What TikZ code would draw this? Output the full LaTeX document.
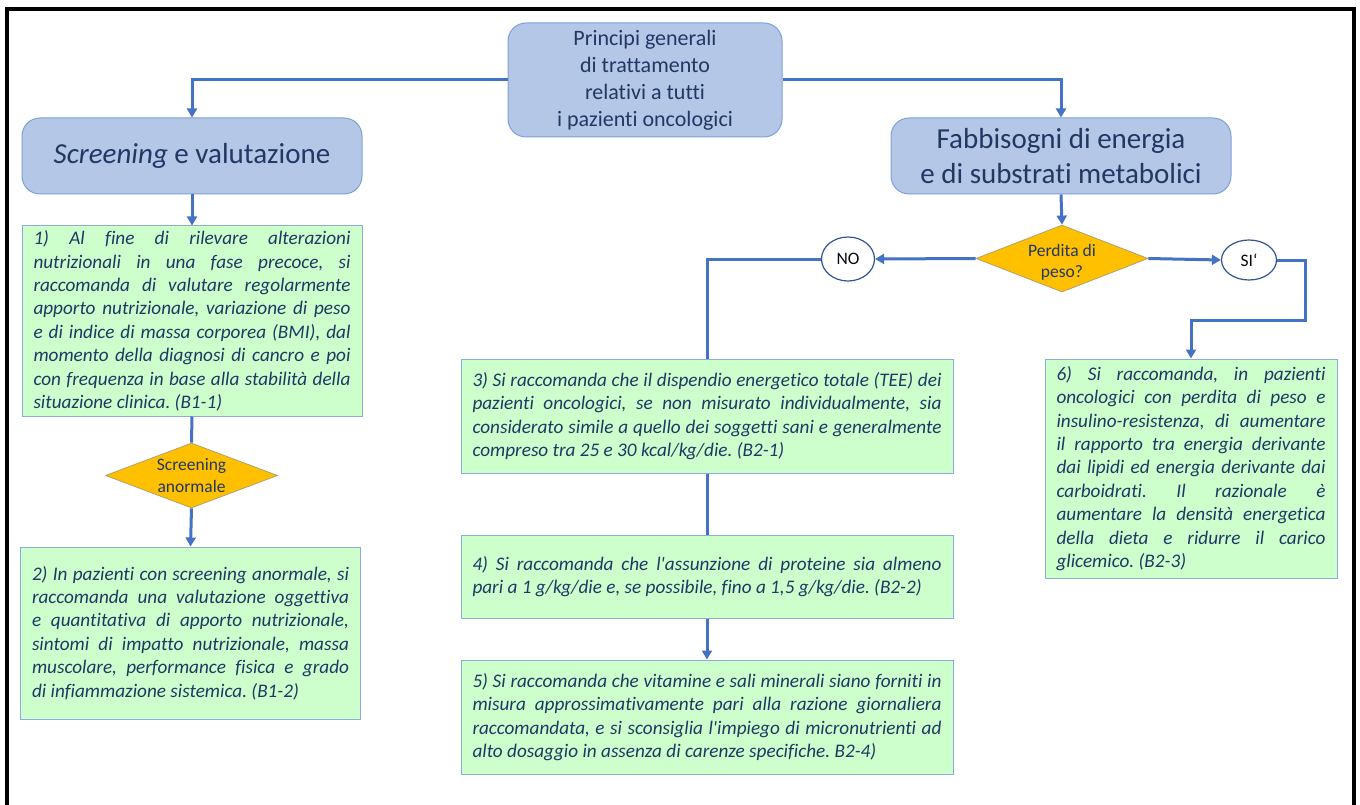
\documentclass[tikz,border=0pt]{standalone}
\usepackage{fontspec}
\setmainfont{Carlito}[Ligatures=NoCommon]
\usetikzlibrary{arrows.meta,shapes.geometric,calc}

\definecolor{flowblue}{HTML}{4472C4}
\definecolor{headfill}{HTML}{B4C7E7}
\definecolor{headborder}{HTML}{7F9FDB}
\definecolor{notefill}{HTML}{CCFFCC}
\definecolor{noteborder}{HTML}{8FAADC}
\definecolor{decfill}{HTML}{FFC000}
\definecolor{decborder}{HTML}{B0A070}
\definecolor{ansborder}{HTML}{2F5597}
\definecolor{navy}{HTML}{203864}

\tolerance=10000
\hbadness=10000
\frenchspacing
\newcommand{\apo}{\textquotesingle}

\begin{document}
\begin{tikzpicture}[x=1pt,y=-1pt,
  flow/.style={draw=flowblue,line width=3pt},
  arr/.style={flow,-{Triangle[length=9pt,width=10pt]}},
  headbox/.style={draw=headborder,fill=headfill,rounded corners=18pt,line width=1pt,
    align=center,text=navy,inner sep=0pt},
  notebox/.style={draw=noteborder,fill=notefill,line width=1pt,text=navy,align=justify,
    inner xsep=11.5pt,inner ysep=0pt,font=\fontsize{19.2}{23.4}\selectfont\itshape},
  decision/.style={diamond,draw=decborder,fill=decfill,line width=0.8pt,align=center,
    text=navy,inner sep=0pt,aspect=2.65,font=\fontsize{17.5}{21.5}\selectfont},
  answer/.style={ellipse,draw=ansborder,fill=white,line width=1.2pt,inner sep=0pt,
    text=black!85!navy,font=\fontsize{17.5}{20}\selectfont}]

\useasboundingbox (0,0) rectangle (1360,805);

% outer frame
\draw[line width=4pt] (7,805) -- (7,9.5) -- (1354,9.5) -- (1354,805);

% headings
\node[headbox,minimum width=274pt,minimum height=114pt,
  font=\fontsize{22}{27}\selectfont] (top) at (645,80)
  {Principi generali\\di trattamento\\relativi a tutti\\i pazienti oncologici};
\node[headbox,minimum width=340pt,minimum height=76pt,
  font=\fontsize{29}{34}\selectfont] (scr) at (192,156)
  {\textit{Screening} e valutazione};
\node[headbox,minimum width=340pt,minimum height=76pt,
  font=\fontsize{29}{35}\selectfont] (fab) at (1061,156)
  {Fabbisogni di energia\\e di substrati metabolici};

% left column
\node[notebox,text width=317pt,minimum height=190pt] (b1) at (192,321)
  {1) Al fine di rilevare alterazioni\linebreak
   nutrizionali in una fase precoce, si\linebreak
   raccomanda di valutare regolarmente\linebreak
   apporto nutrizionale, variazione di peso\linebreak
   e di indice di massa corporea (BMI), dal\linebreak
   momento della diagnosi di cancro e poi\linebreak
   con frequenza in base alla stabilità della\linebreak
   situazione clinica. (B1-1)};
\node[decision,minimum width=172pt,minimum height=65pt] (d1) at (191.5,475.5)
  {Screening\\anormale};
\node[notebox,text width=317pt,minimum height=172pt] (b2) at (190.5,633)
  {2) In pazienti con screening anormale, si\linebreak
   raccomanda una valutazione oggettiva\linebreak
   e quantitativa di apporto nutrizionale,\linebreak
   sintomi di impatto nutrizionale, massa\linebreak
   muscolare, performance fisica e grado\linebreak
   di infiammazione sistemica. (B1-2)};

% energy requirements branch
\node[decision,minimum width=172pt,minimum height=67pt] (d2) at (1062,258.5)
  {\raisebox{-4pt}[\height][\depth]{\parbox{70pt}{\centering Perdita di\\peso?}}};
\node[answer,minimum width=53pt,minimum height=44pt] (no) at (848,259) {NO};
\node[answer,minimum width=55pt,minimum height=40pt] (si) at (1249,260) {SI‘};

\node[notebox,text width=469pt,minimum height=114pt] (b3) at (707,416)
  {3) Si raccomanda che il dispendio energetico totale (TEE) dei\linebreak
   pazienti oncologici, se non misurato individualmente, sia\linebreak
   considerato simile a quello dei soggetti sani e generalmente\linebreak
   compreso tra 25 e 30 kcal/kg/die. (B2-1)};
\node[notebox,text width=469pt,minimum height=83pt] (b4) at (707,576.5)
  {4) Si raccomanda che l\apo assunzione di proteine sia almeno\linebreak
   pari a 1 g/kg/die e, se possibile, fino a 1,5 g/kg/die. (B2-2)};
\node[notebox,text width=469pt,minimum height=114pt] (b5) at (707,717)
  {5) Si raccomanda che vitamine e sali minerali siano forniti in\linebreak
   misura approssimativamente pari alla razione giornaliera\linebreak
   raccomandata, e si sconsiglia l\apo impiego di micronutrienti ad\linebreak
   alto dosaggio in assenza di carenze specifiche. B2-4)};

\node[notebox,text width=269pt,minimum height=219pt] (b6) at (1191,468.5)
  {6) Si raccomanda, in pazienti\linebreak
   oncologici con perdita di peso e\linebreak
   insulino-resistenza, di aumentare\linebreak
   il rapporto tra energia derivante\linebreak
   dai lipidi ed energia derivante dai\linebreak
   carboidrati. Il razionale è\linebreak
   aumentare la densità energetica\linebreak
   della dieta e ridurre il carico\linebreak
   glicemico. (B2-3)};

\coordinate (siturn) at (1305,320);

% connectors
\draw[arr] (top.west) -| (scr.north);
\draw[arr] (top.east) -| (fab.north);
\draw[arr] (scr.south) -- (b1.north);
\draw[flow] (b1.south) -- (d1.north);
\draw[arr] (d1.south) -- (b2.north);
\draw[arr] (fab.south) -- (d2.north);
\draw[arr] (d2.west) -- (no.east);
\draw[flow] (no.west) -| (b3.north);
\draw[flow] (b3.south) -- (b4.north);
\draw[arr] (b4.south) -- (b5.north);
\draw[arr] (d2.east) -- (si.west);
\draw[arr] (si.east) -| (siturn) -| (b6.north);

\end{tikzpicture}
\end{document}
